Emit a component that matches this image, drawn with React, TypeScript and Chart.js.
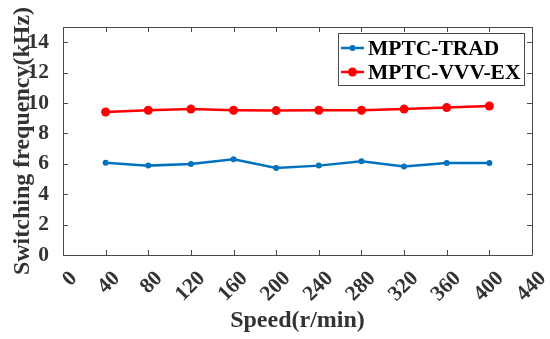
import React, { useEffect, useRef } from "react";
import { Chart, registerables } from "chart.js";

Chart.register(...registerables);

const speeds = [40, 80, 120, 160, 200, 240, 280, 320, 360, 400];
const tradFreq = [6.07, 5.88, 5.99, 6.3, 5.72, 5.88, 6.16, 5.83, 6.05, 6.05];
const vvvFreq = [9.41, 9.52, 9.6, 9.52, 9.5, 9.52, 9.52, 9.6, 9.7, 9.8];
const yTickValues = [0, 2, 4, 6, 8, 10, 12, 14];
const seriesNames = ["MPTC-TRAD", "MPTC-VVV-EX"];
const xTitle = "Speed(r/min)";
const yTitle = "Switching frequency(kHz)";

const BLUE = "#0072BD";
const RED = "#FF0000";
const AXIS = "#4a4a4a";
const TEXT = "#333333";
const FONT = "'Liberation Serif', 'Times New Roman', serif";

const boxPlugin = {
  id: "matlabBox",
  afterDraw(chart: any) {
    const { ctx, chartArea: a, scales } = chart;
    ctx.save();
    ctx.strokeStyle = AXIS;
    ctx.lineWidth = 1;
    ctx.beginPath();
    ctx.rect(a.left + 0.5, a.top + 0.5, a.right - a.left, a.bottom - a.top);
    ctx.stroke();
    const tl = 5;
    ctx.beginPath();
    scales.x.ticks.forEach((t: any) => {
      const px = Math.round(scales.x.getPixelForValue(t.value)) + 0.5;
      ctx.moveTo(px, a.bottom);
      ctx.lineTo(px, a.bottom - tl);
      ctx.moveTo(px, a.top);
      ctx.lineTo(px, a.top + tl);
    });
    scales.y.ticks.forEach((t: any) => {
      const py = Math.round(scales.y.getPixelForValue(t.value)) + 0.5;
      ctx.moveTo(a.left, py);
      ctx.lineTo(a.left + tl, py);
      ctx.moveTo(a.right, py);
      ctx.lineTo(a.right - tl, py);
    });
    ctx.stroke();

    // legend
    const bw = 186;
    const bh = 52;
    const bx = a.right - 8 - bw;
    const by = a.top + 6;
    ctx.fillStyle = "#ffffff";
    ctx.fillRect(bx, by, bw, bh);
    ctx.strokeStyle = AXIS;
    ctx.strokeRect(bx + 0.5, by + 0.5, bw, bh);
    const rows = [
      { name: seriesNames[0], color: BLUE, r: 3 },
      { name: seriesNames[1], color: RED, r: 4.5 },
    ];
    ctx.font = `bold 21.5px ${FONT}`;
    ctx.textBaseline = "middle";
    ctx.textAlign = "left";
    rows.forEach((row, i) => {
      const cy = by + 15 + i * 24;
      ctx.strokeStyle = row.color;
      ctx.lineWidth = 2.5;
      ctx.beginPath();
      ctx.moveTo(bx + 3, cy);
      ctx.lineTo(bx + 26, cy);
      ctx.stroke();
      ctx.fillStyle = row.color;
      ctx.beginPath();
      ctx.arc(bx + 14.5, cy, row.r, 0, Math.PI * 2);
      ctx.fill();
      ctx.fillStyle = "#000000";
      ctx.fillText(row.name, bx + 30, cy + 1);
    });
    ctx.restore();
  },
};

export default function App() {
  const ref = useRef<HTMLCanvasElement | null>(null);
  useEffect(() => {
    if (!ref.current) return;
    const chart = new Chart(ref.current, {
      type: "line",
      data: {
        datasets: [
          {
            label: seriesNames[0],
            data: speeds.map((s, i) => ({ x: s, y: tradFreq[i] })),
            borderColor: BLUE,
            backgroundColor: BLUE,
            borderWidth: 2.5,
            pointRadius: 3,
            pointBorderWidth: 0,
            tension: 0,
          },
          {
            label: seriesNames[1],
            data: speeds.map((s, i) => ({ x: s, y: vvvFreq[i] })),
            borderColor: RED,
            backgroundColor: RED,
            borderWidth: 2.5,
            pointRadius: 4.5,
            pointBorderWidth: 0,
            tension: 0,
          },
        ],
      },
      options: {
        animation: false,
        responsive: false,
        maintainAspectRatio: false,
        layout: { padding: { top: 27, right: 18, left: 0, bottom: 0 } },
        plugins: { legend: { display: false }, tooltip: { enabled: false } },
        scales: {
          x: {
            type: "linear",
            min: 0,
            max: 440,
            grid: { display: false },
            border: { display: false },
            ticks: {
              stepSize: 40,
              maxRotation: 45,
              minRotation: 45,
              color: TEXT,
              padding: 3,
              labelOffset: 11,
              font: { family: FONT, size: 21.5, weight: "bold" },
            },
            title: {
              display: true,
              text: xTitle,
              color: TEXT,
              font: { family: FONT, size: 24, weight: "bold" },
              padding: { top: 0, bottom: 4 },
            },
            afterFit(scale: any) {
              scale.height = 84;
              scale.paddingLeft = 0;
              scale.paddingRight = 0;
            },
          },
          y: {
            type: "linear",
            min: 0,
            max: 15,
            grid: { display: false },
            border: { display: false },
            ticks: {
              color: TEXT,
              padding: 6,
              font: { family: FONT, size: 21.5, weight: "bold" },
            },
            afterBuildTicks(scale: any) {
              scale.ticks = yTickValues.map((v) => ({ value: v }));
            },
            title: {
              display: true,
              text: yTitle,
              color: TEXT,
              font: { family: FONT, size: 24, weight: "bold" },
              padding: { top: 8, bottom: 0 },
            },
            afterFit(scale: any) {
              scale.width = 63;
              scale.paddingTop = 0;
              scale.paddingBottom = 0;
            },
          },
        },
      },
      plugins: [boxPlugin],
    } as any);
    return () => chart.destroy();
  }, []);
  return (
    <div style={{ position: "fixed", left: 0, top: 0, width: 550, height: 339, background: "#fff" }}>
      <canvas ref={ref} width={550} height={339} style={{ width: 550, height: 339 }} />
    </div>
  );
}
